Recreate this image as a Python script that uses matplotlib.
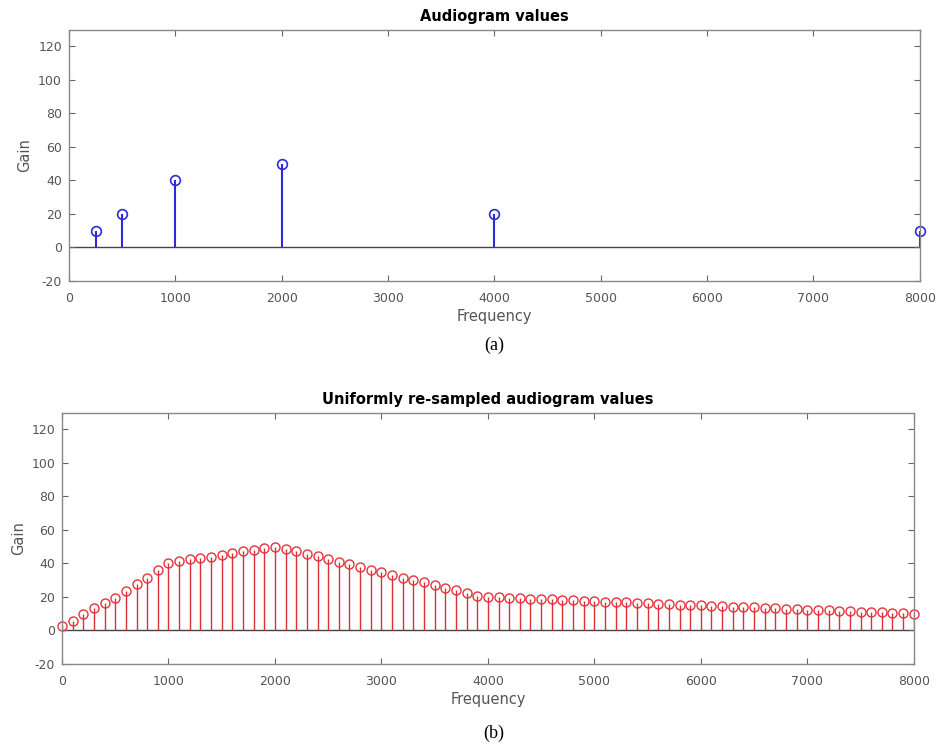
import numpy as np
import matplotlib.pyplot as plt

# audiogram values (top panel)
aud_freq = [250, 500, 1000, 2000, 4000, 8000]
aud_gain = [10, 20, 40, 50, 20, 10]

res_freq = list(range(0, 8001, 100))
res_gain = [
    2.8, 5.6, 9.6, 13.2, 16.4, 19.6, 23.6, 27.6, 31.6, 36.0,
    40.0, 41.2, 42.4, 43.2, 44.0, 44.8, 46.0, 47.2, 48.0, 49.2,
    50.0, 48.8, 47.2, 45.6, 44.2, 42.8, 40.8, 39.4, 37.8, 36.4,
    34.8, 33.2, 31.6, 30.4, 28.8, 27.2, 25.6, 24.0, 22.4, 20.8,
    20.0, 19.8, 19.5, 19.3, 19.0, 18.8, 18.5, 18.3, 18.0, 17.8,
    17.5, 17.3, 17.0, 16.8, 16.5, 16.3, 16.0, 15.8, 15.5, 15.3,
    15.0, 14.8, 14.5, 14.3, 14.0, 13.8, 13.5, 13.3, 13.0, 12.8,
    12.5, 12.3, 12.0, 11.8, 11.5, 11.3, 11.0, 10.8, 10.5, 10.3,
    10.0,
]

xticks = [0, 1000, 2000, 3000, 4000, 5000, 6000, 7000, 8000]
yticks = [-20, 0, 20, 40, 60, 80, 100, 120]

plt.rcParams['font.family'] = 'DejaVu Sans'
plt.rcParams['axes.unicode_minus'] = False  # matlab-style hyphen minus
grey = '#555555'

fig = plt.figure(figsize=(9.37, 7.49), dpi=100)
ax1 = fig.add_axes([0.0736, 0.6248, 0.908, 0.3358])
ax2 = fig.add_axes([0.0662, 0.1135, 0.909, 0.3355])


def style(ax, title):
    ax.set_xlim(0, 8000)
    ax.set_ylim(-20, 130)
    ax.set_xticks(xticks)
    ax.set_yticks(yticks)
    ax.tick_params(direction='in', top=True, right=True, length=4,
                   colors='#666666', labelcolor=grey, labelsize=9)
    ax.tick_params(axis='x', pad=8)
    ax.tick_params(axis='y', pad=5)
    for s in ax.spines.values():
        s.set_color('#888888')
        s.set_linewidth(1.0)
    ax.axhline(0, color='#444444', lw=1.0, zorder=1)
    ax.set_xlabel('Frequency', color=grey, fontsize=10.5, labelpad=3)
    ax.set_ylabel('Gain', color=grey, fontsize=10.5, labelpad=4)
    ax.set_title(title, fontsize=10.5, fontweight='bold', pad=6)


# (a) audiogram
ml, sl, bl = ax1.stem(aud_freq, aud_gain, linefmt='-', markerfmt='o', basefmt=' ')
sl.set_color('#2b2bd9')
sl.set_linewidth(1.5)
ml.set_color('#2b2bd9')
ml.set_markerfacecolor('none')
ml.set_markersize(7)
ml.set_markeredgewidth(1.2)
ml.set_clip_on(False)
style(ax1, 'Audiogram values')

# (b) re-sampled
ml, sl, bl = ax2.stem(res_freq, res_gain, linefmt='-', markerfmt='o', basefmt=' ')
sl.set_color('#d9303a')
sl.set_linewidth(1.0)
ml.set_color('#e8323c')
ml.set_markerfacecolor('none')
ml.set_markersize(6.5)
ml.set_markeredgewidth(1.0)
ml.set_clip_on(False)
style(ax2, 'Uniformly re-sampled audiogram values')

fig.text(0.527, 0.539, '(a)', ha='center', va='center',
         family='Liberation Serif', fontsize=13)
fig.text(0.527, 0.021, '(b)', ha='center', va='center',
         family='Liberation Serif', fontsize=13)

fig.savefig('out.png', dpi=100)
